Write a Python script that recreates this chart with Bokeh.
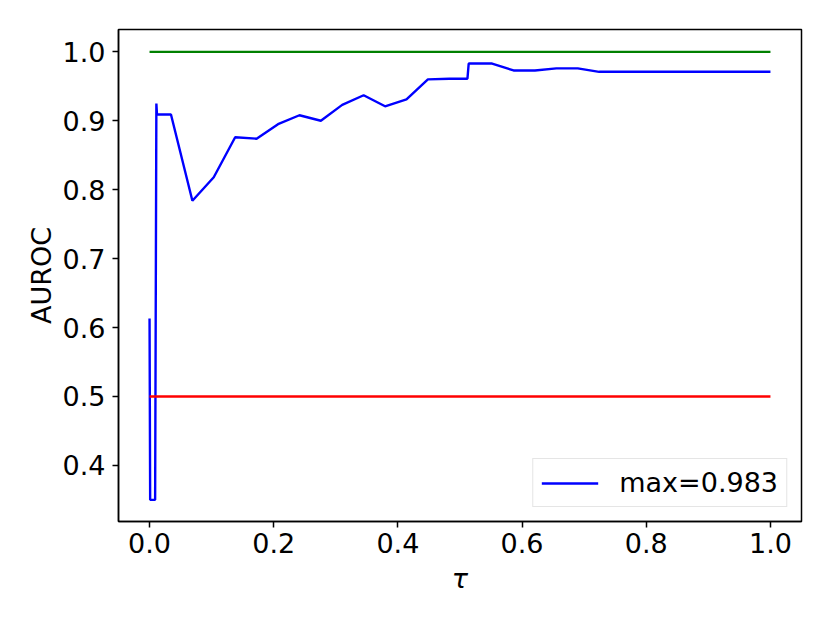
from bokeh.plotting import figure
from bokeh.models import FixedTicker, Legend, LegendItem, Range1d, CustomJSTickFormatter
from bokeh.embed import file_html
from bokeh.resources import INLINE

# data
tau = [0.0, 0.001, 0.009, 0.011, 0.012, 0.0345, 0.069, 0.1034, 0.1379, 0.1724,
       0.2069, 0.2414, 0.2759, 0.3103, 0.3448, 0.3793, 0.4138, 0.4483, 0.4828,
       0.512, 0.514, 0.5517, 0.5862, 0.6207, 0.6552, 0.6897, 0.7241, 0.7586,
       0.7931, 0.8276, 0.8621, 0.8966, 0.9310, 0.9655, 1.0]
auroc = [0.613, 0.350, 0.350, 0.925, 0.909, 0.909, 0.784, 0.818, 0.876, 0.874,
         0.895, 0.908, 0.900, 0.923, 0.937, 0.921, 0.931, 0.960, 0.961,
         0.961, 0.983, 0.983, 0.973, 0.973, 0.976, 0.976, 0.971, 0.971,
         0.971, 0.971, 0.971, 0.971, 0.971, 0.971, 0.971]
ref_x = [0.0, 1.0]
perfect_y = [1.0, 1.0]
chance_y = [0.5, 0.5]
legend_label = "max=0.983"
x_ticks = [0.0, 0.2, 0.4, 0.6, 0.8, 1.0]
y_ticks = [0.4, 0.5, 0.6, 0.7, 0.8, 0.9, 1.0]

FONT = "DejaVu Sans"
FS = "27px"

p = figure(width=814, height=607, output_backend="svg", toolbar_location=None,
           x_range=Range1d(-0.05, 1.05), y_range=Range1d(0.3186, 1.0324),
           min_border_left=118, min_border_right=13, min_border_top=29,
           min_border_bottom=86)

blue = p.line(tau, auroc, line_color="#0000ff", line_width=2.4)
p.line(ref_x, perfect_y, line_color="#008000", line_width=2.4)
p.line(ref_x, chance_y, line_color="#ff0000", line_width=2.4)

p.xgrid.visible = False
p.ygrid.visible = False
p.outline_line_color = "black"
p.outline_line_width = 1.5
p.background_fill_color = "white"
p.border_fill_color = "white"

fmt = CustomJSTickFormatter(code="return tick.toFixed(1);")
for ax, ticks in ((p.xaxis[0], x_ticks), (p.yaxis[0], y_ticks)):
    ax.ticker = FixedTicker(ticks=ticks)
    ax.formatter = fmt
    ax.minor_tick_line_color = None
    ax.major_tick_in = 0
    ax.major_tick_out = 6
    ax.major_tick_line_width = 1.5
    ax.major_tick_line_color = "black"
    ax.axis_line_color = "black"
    ax.axis_line_width = 1.5
    ax.major_label_text_font = FONT
    ax.major_label_text_font_size = FS
    ax.major_label_text_color = "black"
    ax.axis_label_text_font = FONT
    ax.axis_label_text_font_size = FS
    ax.axis_label_text_color = "black"

p.xaxis.axis_label = "τ"
p.xaxis.axis_label_text_font_style = "italic"
p.yaxis.axis_label = "AUROC"
p.yaxis.axis_label_text_font_style = "normal"
p.xaxis.major_label_standoff = 5
p.yaxis.major_label_standoff = 7
p.xaxis.axis_label_standoff = 7
p.yaxis.axis_label_standoff = 3

legend = Legend(items=[LegendItem(label=legend_label, renderers=[blue])],
                location="bottom_right")
legend.label_text_font = FONT
legend.label_text_font_size = FS
legend.label_text_color = "black"
legend.glyph_width = 57
legend.label_standoff = 21
legend.padding = 8
legend.margin = 14
legend.border_line_color = "#cccccc"
legend.border_line_width = 1.5
legend.background_fill_alpha = 0.8
p.add_layout(legend)

open("out.html", "w").write(file_html(p, INLINE))
